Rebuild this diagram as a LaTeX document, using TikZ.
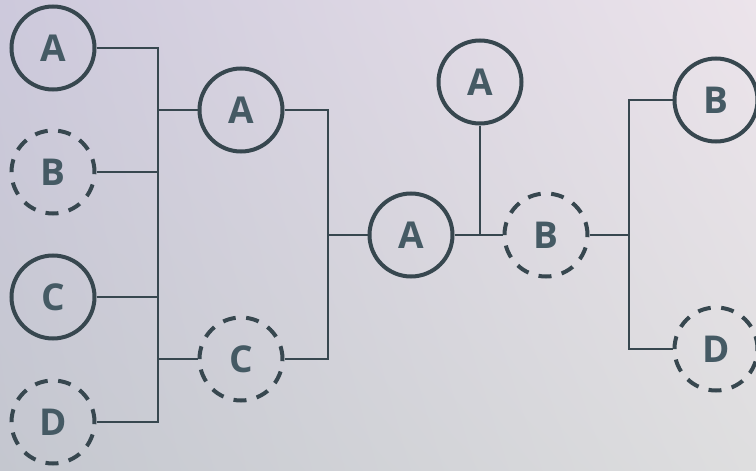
\documentclass[tikz,border=0pt]{standalone}
\usepackage{fontspec}
\setmainfont{Open Sans}
\usetikzlibrary{shadings}

\definecolor{ring}{HTML}{37474F}
\definecolor{letter}{HTML}{455A64}
\definecolor{bgtl}{HTML}{CDC9DC}
\definecolor{bgtr}{HTML}{ECE4EB}
\definecolor{bgbl}{HTML}{C4C7CF}
\definecolor{bgbr}{HTML}{DEDEDF}

\tikzset{
  team/.style={circle, draw=ring, line width=4pt, minimum size=83pt,
    inner sep=0pt, text=letter, font=\fontsize{37}{37}\selectfont\bfseries},
  maybe/.style={team, dash pattern=on 13pt off 10.5pt},
  wire/.style={draw=ring, line width=2pt},
}

\begin{document}
\begin{tikzpicture}[x=1pt,y=-1pt]
  \useasboundingbox (0,0) rectangle (756,471);
  \clip (0,0) rectangle (756,471);
  \shade[upper left=bgtl, upper right=bgtr, lower left=bgbl, lower right=bgbr]
    (0,0) rectangle (756,471);

  % first column
  \node[team]  (A1) at (53,48)  {A};
  \node[maybe] (B1) at (53,172) {B};
  \node[team]  (C1) at (53,297) {C};
  \node[maybe] (D1) at (53,422) {D};

  % second column
  \node[team]  (A2) at (241,110) {A};
  \node[maybe] (C2) at (241,359) {C};

  % middle
  \node[team]  (A3) at (411,235) {A};
  \node[team]  (At) at (480,82)  {A};
  \node[maybe] (B3) at (546,235) {B};

  % right column
  \node[team]  (B4) at (716,100) {B};
  \node[maybe] (D4) at (716,349) {D};

  \coordinate (j1) at (158,110);
  \coordinate (j2) at (158,359);
  \coordinate (j3) at (328,235);
  \coordinate (j4) at (480,235);
  \coordinate (j5) at (629,235);

  \draw[wire] (A1.east) -| (j1) -- (A2.west);
  \draw[wire] (B1.east) -| (j1);
  \draw[wire] (C1.east) -| (j2) -- (C2.west);
  \draw[wire] (D1.east) -| (j2);
  \draw[wire] (j1) -- (j2);

  \draw[wire] (A2.east) -| (j3) -- (A3.west);
  \draw[wire] (C2.east) -| (j3);

  \draw[wire] (A3.east) -- (B3.west);
  \draw[wire] (At.south) -- (j4);

  \draw[wire] (B3.east) -- (j5);
  \draw[wire] (B4.west) -| (j5) |- (D4.west);
\end{tikzpicture}
\end{document}
